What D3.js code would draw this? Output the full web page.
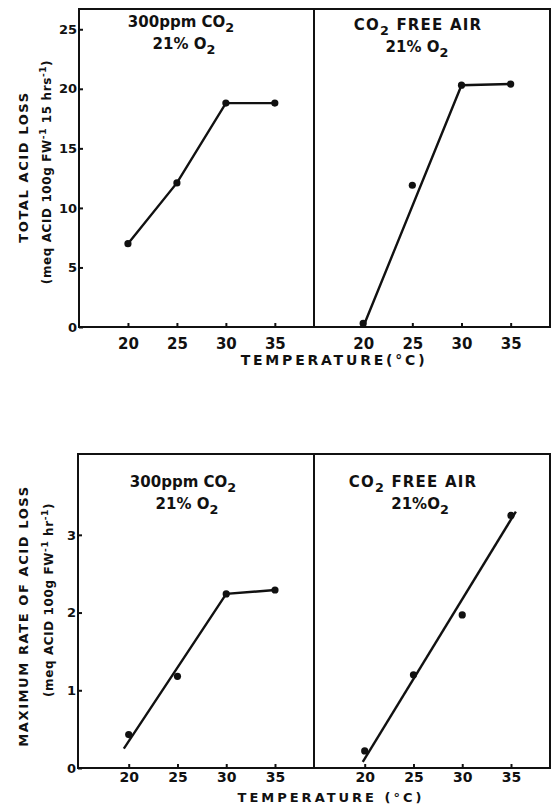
<!DOCTYPE html>
<html><head><meta charset="utf-8">
<script src="https://cdn.jsdelivr.net/npm/d3@7"></script>
<style>
html,body{margin:0;padding:0;background:#fff;}
svg{display:block;}
text{font-family:"DejaVu Sans",sans-serif;font-weight:bold;fill:#111;}
</style></head>
<body>
<svg id="chart" width="552" height="804"></svg>
<script>
// ---- data ----
const temps = [20, 25, 30, 35];
const xTicks = [20, 25, 30, 35];
const totalTicks = [0, 5, 10, 15, 20, 25];
const rateTicks = [0, 1, 2, 3];

const totalCO2 = [7.0, 12.1, 18.8, 18.8];
const totalCO2LineT = [20, 25, 30, 35];
const totalCO2LineV = [7.0, 12.1, 18.8, 18.8];

const totalFree = [0.3, 11.9, 20.3, 20.4];
const totalFreeLineT = [20, 30, 35];
const totalFreeLineV = [0.0, 20.3, 20.4];

const rateCO2 = [0.43, 1.18, 2.24, 2.29];
const rateCO2LineT = [19.5, 30, 35];
const rateCO2LineV = [0.25, 2.24, 2.29];

const rateFree = [0.22, 1.2, 1.97, 3.25];
const rateFreeLineT = [19.8, 35.5];
const rateFreeLineV = [0.08, 3.3];

const svg = d3.select("#chart");
const ink = "#111";

function sub(textSel, parts) {
  parts.forEach(p => {
    const t = textSel.append("tspan").text(p.t);
    if (p.sub) t.attr("dy", 5).attr("font-size", "0.85em");
    if (p.back) t.attr("dy", -5);
  });
}

function panel(cfg) {
  const g = svg.append("g");
  const xL = d3.scaleLinear().domain(cfg.xDomain).range([cfg.left, cfg.mid]);
  const xR = d3.scaleLinear().domain(cfg.xDomain).range([cfg.mid, cfg.right]);
  const y = d3.scaleLinear().domain(cfg.yDomain).range([cfg.bottom, cfg.top]);

  g.append("rect").attr("x", cfg.left).attr("y", cfg.top)
    .attr("width", cfg.right - cfg.left).attr("height", cfg.bottom - cfg.top)
    .attr("fill", "none").attr("stroke", ink).attr("stroke-width", 2);
  g.append("line").attr("x1", cfg.mid).attr("x2", cfg.mid)
    .attr("y1", cfg.top).attr("y2", cfg.bottom)
    .attr("stroke", ink).attr("stroke-width", 2);

  [xL, xR].forEach(xs => {
    const ax = g.append("g").attr("transform", `translate(0,${cfg.bottom})`)
      .call(d3.axisBottom(xs).tickValues(xTicks).tickSizeInner(-4).tickSizeOuter(0).tickPadding(cfg.xPad));
    ax.select(".domain").remove();
    ax.selectAll(".tick line").attr("stroke", ink).attr("stroke-width", 2);
    ax.selectAll(".tick text").attr("font-size", cfg.xFont).attr("font-family", "DejaVu Sans").attr("font-weight", "bold").attr("fill", ink);
  });
  const ay = g.append("g").attr("transform", `translate(${cfg.left},0)`)
    .call(d3.axisLeft(y).tickValues(cfg.yTicks).tickSizeInner(-4).tickSizeOuter(0).tickPadding(2).tickFormat(d3.format("d")));
  ay.select(".domain").remove();
  ay.selectAll(".tick line").attr("stroke", ink).attr("stroke-width", 2);
  ay.selectAll(".tick text").attr("font-size", cfg.yFont).attr("font-family", "DejaVu Sans").attr("font-weight", "bold").attr("fill", ink);

  const line = (xs) => d3.line().x(d => xs(d[0])).y(d => y(d[1]));
  cfg.series.forEach(s => {
    const xs = s.side === "L" ? xL : xR;
    const lp = s.lineT.map((t, i) => [t, s.lineV[i]]);
    g.append("path").datum(lp).attr("d", line(xs))
      .attr("fill", "none").attr("stroke", ink).attr("stroke-width", 2.4);
    g.selectAll(null).data(temps.map((t, i) => [t, s.vals[i]])).join("circle")
      .attr("cx", d => xs(d[0])).attr("cy", d => y(d[1])).attr("r", 3.6).attr("fill", ink);
  });
}

panel({
  left: 79, mid: 314, right: 550, top: 9, bottom: 327,
  xDomain: [15, 39], yDomain: [0, 26.7], yTicks: totalTicks, yFont: 13, xFont: 15, xPad: 11,
  series: [
    {side: "L", vals: totalCO2, lineT: totalCO2LineT, lineV: totalCO2LineV},
    {side: "R", vals: totalFree, lineT: totalFreeLineT, lineV: totalFreeLineV}
  ]
});

panel({
  left: 78, mid: 314, right: 550, top: 454, bottom: 768,
  xDomain: [14.8, 39], yDomain: [0, 4.04], yTicks: rateTicks, yFont: 13, xFont: 14, xPad: 4,
  series: [
    {side: "L", vals: rateCO2, lineT: rateCO2LineT, lineV: rateCO2LineV},
    {side: "R", vals: rateFree, lineT: rateFreeLineT, lineV: rateFreeLineV}
  ]
});

function title(x, y, parts, size, ls) {
  const t = svg.append("text").attr("x", x).attr("y", y).attr("text-anchor", "middle")
    .attr("font-size", size || 15).attr("letter-spacing", ls || 0);
  sub(t, parts);
}
title(181, 27, [{t: "300ppm  CO"}, {t: "2", sub: true}], 15, 0);
title(184, 49, [{t: "21% O"}, {t: "2", sub: true}], 15, 0);
title(418, 30, [{t: "CO"}, {t: "2", sub: true}, {t: " FREE AIR", back: true}], 15, 1.2);
title(417, 52, [{t: "21% O"}, {t: "2", sub: true}], 15, 0);
title(183, 487, [{t: "300ppm CO"}, {t: "2", sub: true}], 15, 0);
title(187, 509, [{t: "21% O"}, {t: "2", sub: true}], 15, 0);
title(413, 487, [{t: "CO"}, {t: "2", sub: true}, {t: " FREE AIR", back: true}], 15, 1.2);
title(420, 509, [{t: "21%O"}, {t: "2", sub: true}], 15, 0);

svg.append("text").attr("x", 334).attr("y", 365).attr("text-anchor", "middle")
  .attr("font-size", 14).attr("letter-spacing", 2.8).text("TEMPERATURE(°C)");
svg.append("text").attr("x", 331).attr("y", 802).attr("text-anchor", "middle")
  .attr("font-size", 13).attr("letter-spacing", 3).text("TEMPERATURE (°C)");

function ylab(x, y, parts, size, ls) {
  const t = svg.append("text").attr("transform", `translate(${x},${y}) rotate(-90)`)
    .attr("text-anchor", "middle").attr("font-size", size).attr("letter-spacing", ls);
  parts.forEach(p => {
    const s = t.append("tspan").text(p.t);
    if (p.sup) s.attr("dy", -5).attr("font-size", "0.75em");
    if (p.back) s.attr("dy", 5);
  });
}
ylab(28, 167, [{t: "TOTAL ACID LOSS"}], 13, 1.6);
ylab(51, 172, [{t: "(meq ACID 100g FW"}, {t: "-1", sup: true}, {t: " 15 hrs", back: true}, {t: "-1", sup: true}, {t: ")", back: true}], 12, 0.6);
ylab(28, 616, [{t: "MAXIMUM RATE OF ACID LOSS"}], 13, 1.6);
ylab(53, 600, [{t: "(meq ACID 100g FW"}, {t: "-1", sup: true}, {t: " hr", back: true}, {t: "-1", sup: true}, {t: ")", back: true}], 12, 0.6);
</script>
</body></html>
